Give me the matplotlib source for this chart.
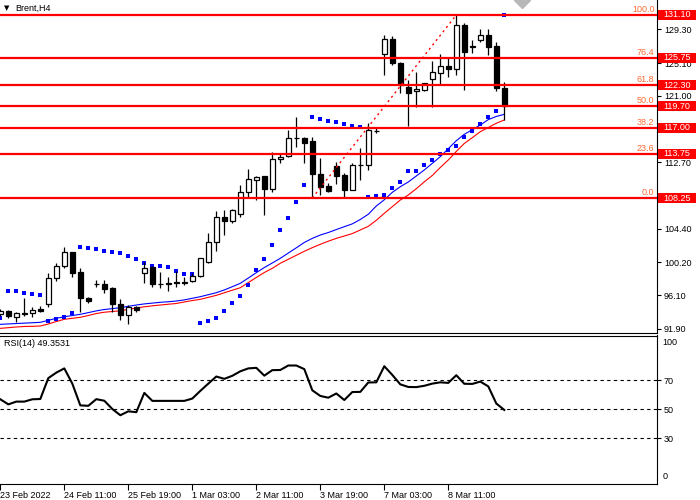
import matplotlib
matplotlib.use("Agg")
import matplotlib.pyplot as plt
import matplotlib.transforms as mtransforms
from matplotlib.patches import Rectangle

plt.rcParams['font.family'] = ['Liberation Sans', 'DejaVu Sans']

# ---- data (Brent, H4) ----
symbol = "Brent,H4"
date_labels = ["23 Feb 2022", "24 Feb 11:00", "25 Feb 19:00", "1 Mar 03:00",
               "2 Mar 11:00", "3 Mar 19:00", "7 Mar 03:00", "8 Mar 11:00"]
label_bars = [0, 8, 16, 24, 32, 40, 48, 56]

opens = [93.73, 94.18, 93.39, 93.83, 93.86, 94.39, 95.02, 98.23, 99.76, 101.47,
         98.98, 95.80, 97.48, 97.51, 96.98, 95.02, 93.64, 94.68, 98.85, 99.60,
         97.51, 97.68, 97.80, 97.70, 97.93, 98.51, 100.30, 102.80, 105.84, 105.38,
         106.22, 108.96, 110.50, 110.94, 109.34, 113.08, 113.49, 115.74, 115.78, 115.37,
         111.21, 109.75, 112.25, 111.12, 109.31, 112.37, 112.37, 116.62, 126.19, 128.06,
         125.14, 122.07, 121.61, 121.73, 123.07, 123.89, 124.73, 124.32, 129.85, 127.14,
         127.98, 128.60, 127.23, 122.02]
highs = [94.39, 94.33, 94.02, 95.73, 94.61, 94.77, 98.93, 100.17, 102.17, 101.51,
         99.47, 95.93, 98.01, 98.01, 97.10, 95.60, 94.89, 94.77, 100.30, 99.76,
         99.05, 98.43, 99.18, 98.35, 98.93, 100.76, 103.84, 106.63, 106.75, 106.82,
         109.87, 111.83, 110.97, 111.00, 114.03, 113.83, 116.74, 118.40, 115.90, 115.90,
         113.21, 110.09, 112.71, 111.33, 112.58, 114.46, 117.58, 116.95, 128.60, 128.48,
         125.27, 122.98, 124.02, 122.61, 125.35, 126.23, 125.82, 131.10, 130.06, 127.98,
         129.31, 129.31, 127.76, 122.77]
lows = [93.52, 93.33, 92.81, 93.52, 93.36, 94.06, 94.68, 97.93, 99.47, 98.39,
        94.06, 95.18, 97.10, 96.35, 94.06, 93.02, 92.52, 94.06, 97.60, 97.18,
        96.98, 96.64, 97.18, 97.39, 97.73, 98.45, 100.17, 101.67, 103.63, 105.17,
        105.84, 108.41, 108.00, 106.13, 109.04, 112.58, 113.41, 114.66, 112.66, 108.25,
        108.60, 109.04, 110.06, 108.41, 109.25, 110.50, 111.75, 116.33, 123.61, 124.86,
        121.40, 117.24, 119.65, 121.65, 119.65, 122.36, 123.39, 123.61, 121.73, 126.39,
        127.76, 126.10, 121.65, 117.99]
closes = [94.18, 93.52, 93.89, 93.89, 94.27, 94.18, 98.23, 99.76, 101.47, 98.93,
          95.73, 95.39, 97.55, 96.93, 95.02, 93.64, 94.68, 94.27, 99.47, 97.48,
          97.48, 97.48, 97.60, 97.73, 98.51, 100.72, 102.80, 105.84, 105.42, 106.75,
          108.96, 110.59, 110.91, 109.34, 113.08, 113.41, 115.70, 115.78, 115.15, 111.21,
          109.66, 109.12, 111.00, 109.25, 112.37, 112.43, 116.74, 116.65, 128.06, 125.07,
          122.36, 121.40, 121.86, 122.57, 124.02, 124.73, 124.32, 129.85, 126.52, 127.19,
          128.60, 127.14, 121.95, 119.74]

sar = [93.31, 96.64, 96.64, 96.39, 96.27, 96.14, 92.93, 93.11, 93.36, 93.93,
       102.17, 102.05, 101.92, 101.63, 101.51, 101.38, 101.05, 100.60, 100.14, 99.80,
       99.80, 99.67, 99.18, 98.80, 98.80, 92.68, 92.90, 93.31, 94.18, 95.18,
       96.05, 97.43, 99.26, 100.64, 102.38, 104.26, 105.75, 107.79, 109.87, 118.40,
       118.15, 117.90, 117.74, 117.49, 117.28, 117.15, 108.34, 108.54, 108.66, 109.46,
       110.29, 111.62, 111.66, 112.41, 113.00, 113.74, 114.24, 114.78, 115.83, 116.62,
       117.45, 118.40, 119.15, 131.10]

ma_blue = [92.48, 92.53, 92.58, 92.63, 92.68, 92.73, 92.98, 93.23, 93.43, 93.58,
           93.73, 93.94, 94.16, 94.33, 94.44, 94.56, 94.73, 94.89, 95.03, 95.13,
           95.23, 95.30, 95.39, 95.53, 95.73, 95.93, 96.18, 96.43, 96.77, 97.18,
           97.60, 98.26, 98.93, 99.57, 100.14, 100.72, 101.38, 102.03, 102.70, 103.21,
           103.63, 103.94, 104.31, 104.67, 105.02, 105.57, 106.22, 107.25, 108.03, 108.96,
           109.66, 110.25, 111.00, 111.75, 112.58, 113.41, 114.41, 115.40, 116.20, 116.78,
           117.36, 118.04, 118.43, 118.70]
ma_red = [91.98, 92.06, 92.15, 92.21, 92.23, 92.27, 92.52, 92.83, 93.11, 93.23,
          93.36, 93.58, 93.83, 93.99, 94.08, 94.18, 94.34, 94.52, 94.67, 94.79,
          94.89, 94.99, 95.08, 95.27, 95.45, 95.60, 95.85, 96.10, 96.42, 96.74,
          97.05, 97.69, 98.33, 98.95, 99.47, 100.10, 100.60, 101.10, 101.60, 102.05,
          102.47, 102.86, 103.21, 103.51, 103.81, 104.26, 104.71, 105.47, 106.34, 107.17,
          108.00, 108.63, 109.41, 110.27, 111.06, 112.06, 113.00, 114.06, 115.06, 115.78,
          116.53, 117.05, 117.58, 117.99]

rsi = [56.7, 53.2, 55.1, 55.1, 56.7, 56.9, 71.3, 75.1, 78.0, 67.5,
       52.5, 52.2, 56.8, 55.7, 50.0, 45.7, 48.4, 47.8, 61.1, 55.6,
       55.6, 55.6, 55.6, 55.6, 57.2, 62.5, 67.5, 72.4, 70.8, 72.9,
       76.0, 78.0, 78.4, 73.0, 76.8, 76.9, 80.0, 80.0, 77.5, 62.9,
       59.0, 57.8, 60.7, 56.2, 61.7, 61.8, 68.3, 68.4, 79.5, 73.5,
       67.0, 65.2, 65.1, 66.0, 67.5, 68.4, 68.0, 73.3, 67.4, 67.3,
       68.9, 65.6, 53.8, 49.35]
rsi_label = "RSI(14) 49.3531"

fib_pct = ["100.0", "76.4", "61.8", "50.0", "38.2", "23.6", "0.0"]
fib_price = [131.10, 125.75, 122.30, 119.70, 117.00, 113.75, 108.25]
fib_from, fib_to = 39, 57   # bars of the swing low / swing high

# grid prices of the price scale; the ones under a level box stay unlabeled
price_ticks = [129.30, 125.10, 121.00, 116.80, 112.70, 108.60, 104.40, 100.20, 96.10, 91.90]
hidden_ticks = [116.80, 108.60]
rsi_levels = [30, 50, 70]

# ---- layout (pixel boxes like the terminal window) ----
W, H = 700, 500
fig = plt.figure(figsize=(W / 100, H / 100), dpi=100)


def box(x0, y0, x1, y1):
    return [x0 / W, 1 - y1 / H, (x1 - x0) / W, (y1 - y0) / H]


ax = fig.add_axes(box(0, 0, 657, 332.5))
ax_rsi = fig.add_axes(box(0, 335.5, 657, 484), sharex=ax)

bars = list(range(len(opens)))
ax.set_xlim(-0.04, 82.09)
ax.set_ylim(91.46, 132.97)

# moving averages and parabolic SAR
ax.plot(bars, ma_blue, color='#0000ff', lw=0.8, zorder=3)
ax.plot(bars, ma_red, color='#ff0000', lw=0.8, zorder=3)
ax.scatter(bars, sar, marker='s', s=5, color='#0000ff', zorder=3, linewidths=0)

# candles
ax.vlines(bars, lows, highs, color='black', lw=0.9, zorder=4)
for i in bars:
    o, c = opens[i], closes[i]
    face = 'white' if c >= o else 'black'
    ax.add_patch(Rectangle((i - 0.3, min(o, c)), 0.6, max(abs(c - o), 0.02),
                           facecolor=face, edgecolor='black', lw=0.9, zorder=5))

# fibonacci levels
for p in fib_price:
    ax.axhline(p, color='#ff0000', lw=1.6, zorder=6)
ax.plot([fib_from, fib_to], [fib_price[-1], fib_price[0]], color='#ff0000',
        ls=(0, (1.5, 2.5)), lw=1, zorder=6)
ytr = ax.get_yaxis_transform()
for lab, p in zip(fib_pct, fib_price):
    ax.text(0.996, p + 0.15, lab, transform=ytr, ha='right', va='bottom',
            color='#ff6a33', fontsize=6.5, zorder=7)

# chart shift marker
ax.plot([65.2], [132.97], marker='D', ms=8, color='#b8b8b8', zorder=7, clip_on=True)

# price axis on the right
for s in ['left', 'top']:
    ax.spines[s].set_visible(False)
ax.yaxis.tick_right()
ax.set_yticks(price_ticks)
ax.set_yticklabels(["" if t in hidden_ticks else f"{t:.2f}" for t in price_ticks])
ax.tick_params(axis='y', length=3, labelsize=6.5, pad=2)
ax.tick_params(axis='x', bottom=False, labelbottom=False)

trans = mtransforms.blended_transform_factory(fig.transFigure, ax.transData)
box_h = 10 / 8.01   # 10 px in price units
for p in fib_price:
    fig.add_artist(Rectangle((658 / W, p - box_h / 2), 38 / W, box_h, transform=trans,
                             facecolor='#ff0000', edgecolor='none', zorder=5))
    fig.text(677 / W, p, f"{p:.2f}", transform=trans, ha='center', va='center',
             color='white', fontsize=6.5, zorder=6)

fig.text(4 / W, 1 - 8 / H, "\u25bc", fontsize=5, va='center', ha='left',
         family=['DejaVu Sans'])
fig.text(15 / W, 1 - 8 / H, symbol, fontsize=6.5, va='center', ha='left')

# RSI window
ax_rsi.plot(bars, rsi, color='black', lw=1.5)
for lv in rsi_levels:
    ax_rsi.axhline(lv, color='black', lw=0.8, ls=(0, (3, 3)))
ax_rsi.set_ylim(-1.72, 100.69)
ax_rsi.spines['left'].set_visible(False)
ax_rsi.yaxis.tick_right()
ax_rsi.set_yticks(rsi_levels)
ax_rsi.set_yticklabels([str(v) for v in rsi_levels])
ax_rsi.tick_params(axis='y', length=3, labelsize=6.5, pad=2)
ax_rsi.text(1.008, 0.985, "100", transform=ax_rsi.transAxes, va='top', ha='left', fontsize=6.5)
ax_rsi.text(1.008, 0.02, "0", transform=ax_rsi.transAxes, va='bottom', ha='left', fontsize=6.5)
ax_rsi.text(0.006, 0.975, rsi_label, transform=ax_rsi.transAxes, va='top', ha='left', fontsize=6.5)

ax_rsi.set_xticks(label_bars)
ax_rsi.set_xticklabels(date_labels)
ax_rsi.tick_params(axis='x', length=4, labelsize=6.5, pad=1)
for lbl in ax_rsi.get_xticklabels():
    lbl.set_ha('left')

fig.savefig("out.png", dpi=100)
